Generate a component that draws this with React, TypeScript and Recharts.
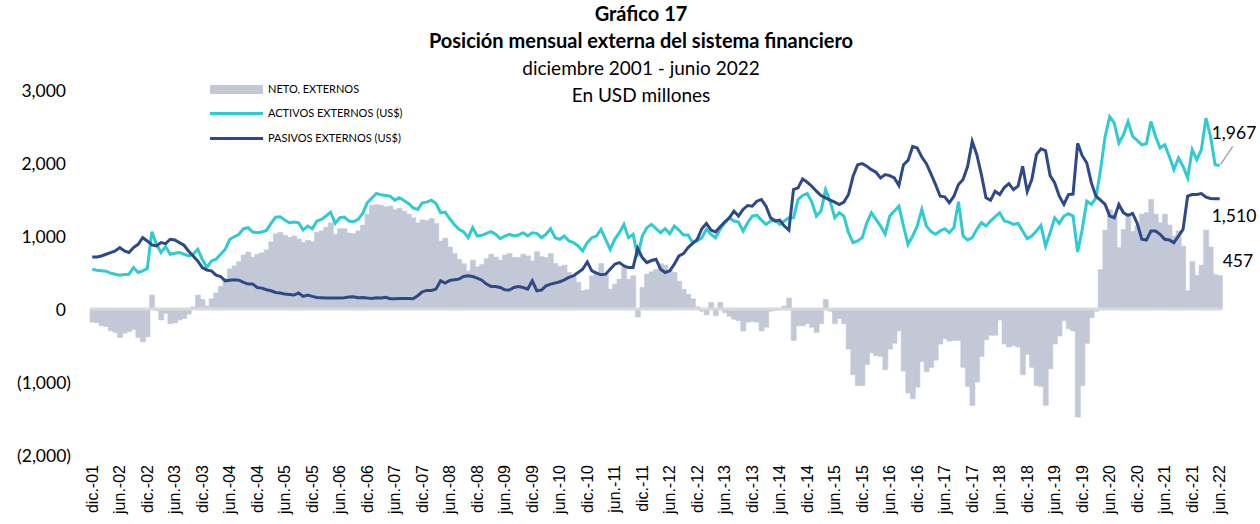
import React from 'react'
import { ComposedChart, Bar, Line, XAxis, YAxis, ReferenceLine, ReferenceDot } from 'recharts'

// Meses: dic.-01 ... jun.-22 (247 observaciones)
const MONTH_NAMES = ['ene.', 'feb.', 'mar.', 'abr.', 'may.', 'jun.', 'jul.', 'ago.', 'sep.', 'oct.', 'nov.', 'dic.']
const months: string[] = []
for (let k = 0; k < 247; k++) {
  const m = (11 + k) % 12
  const yr = 2001 + Math.floor((11 + k) / 12)
  months.push(`${MONTH_NAMES[m]}-${String(yr % 100).padStart(2, '0')}`)
}

// ACTIVOS EXTERNOS (US$), millones
const activos = [
  545,
  532, 523, 518, 491, 477, 464, 473, 477, 568, 500, 523, 555,
  1059, 886, 773, 855, 750, 764, 773, 750, 727, 750, 818, 682,
  568, 659, 682, 750, 818, 955, 990, 1023, 1100, 1114, 1055, 1045,
  1055, 1077, 1173, 1259, 1264, 1218, 1182, 1191, 1182, 1082, 1136, 1100,
  1205, 1227, 1273, 1327, 1173, 1250, 1259, 1205, 1195, 1227, 1309, 1455,
  1520, 1582, 1564, 1555, 1545, 1491, 1523, 1486, 1445, 1386, 1364, 1455,
  1464, 1491, 1445, 1318, 1327, 1236, 1159, 1091, 1059, 977, 1114, 1000,
  1009, 1036, 1059, 1023, 964, 1000, 1023, 1000, 1014, 1045, 1000, 1045,
  1036, 977, 1023, 1100, 977, 955, 1000, 932, 909, 864, 795, 909,
  977, 1000, 1091, 955, 818, 955, 1045, 1159, 977, 1023, 720, 1000,
  1114, 1159, 1100, 1045, 1100, 1032, 1136, 1082, 1014, 1014, 909, 932,
  977, 1091, 1023, 977, 1091, 1182, 1250, 1205, 1191, 1068, 1182, 1273,
  1286, 1218, 1159, 1205, 1218, 1159, 1205, 1250, 1250, 1500, 1555, 1582,
  1464, 1273, 1341, 1636, 1477, 1250, 1318, 1273, 1045, 909, 932, 977,
  1182, 1318, 1227, 1136, 1023, 1273, 1341, 1409, 1136, 886, 1000, 1136,
  1364, 1136, 1060, 1023, 1068, 1100, 1045, 1114, 1470, 1000, 945, 977,
  1091, 1182, 1136, 1205, 1264, 1318, 1205, 1191, 1159, 1173, 1068, 964,
  1000, 1068, 1145, 864, 1045, 1250, 1173, 1273, 1305, 1273, 780, 1091,
  1477, 1432, 1523, 1909, 2364, 2636, 2545, 2273, 2386, 2568, 2364, 2309,
  2250, 2264, 2568, 2364, 2205, 2250, 2091, 1909, 2068, 1955, 1795, 2182,
  2045, 2182, 2614, 2364, 1977, 1967,
]

// PASIVOS EXTERNOS (US$), millones
const pasivos = [
  714,
  714, 727, 750, 773, 795, 841, 795, 773, 841, 886, 977, 932,
  877, 864, 909, 895, 955, 945, 909, 873, 795, 727, 659, 568,
  532, 523, 464, 445, 386, 395, 400, 395, 364, 341, 341, 295,
  286, 264, 250, 227, 218, 205, 200, 191, 218, 173, 191, 173,
  159, 155, 150, 150, 150, 150, 155, 164, 168, 155, 159, 150,
  145, 155, 150, 159, 141, 141, 145, 145, 145, 141, 182, 236,
  255, 255, 273, 386, 355, 391, 400, 409, 445, 455, 445, 423,
  395, 341, 309, 309, 295, 264, 260, 295, 309, 295, 273, 386,
  250, 259, 318, 341, 355, 373, 400, 432, 455, 500, 545, 645,
  523, 491, 468, 477, 545, 614, 636, 591, 568, 568, 830, 705,
  636, 664, 682, 545, 500, 523, 614, 727, 759, 841, 900, 955,
  1100, 1173, 1082, 1055, 1127, 1191, 1250, 1341, 1273, 1364, 1418, 1409,
  1477, 1500, 1409, 1250, 1205, 1218, 1136, 1080, 1636, 1659, 1782, 1736,
  1682, 1614, 1555, 1523, 1491, 1464, 1432, 1464, 1568, 1818, 1977, 1991,
  1955, 1909, 1873, 1795, 1841, 1827, 1795, 1691, 1977, 2036, 2227, 2205,
  2082, 1991, 1850, 1705, 1545, 1536, 1455, 1545, 1705, 1773, 1955, 2295,
  2114, 1841, 1523, 1491, 1614, 1568, 1664, 1718, 1636, 1682, 1955, 1609,
  1773, 2114, 2195, 2168, 1827, 1727, 1545, 1432, 1568, 1575, 2270, 2100,
  2000, 1727, 1545, 1491, 1432, 1273, 1250, 1432, 1318, 1282, 1309, 1173,
  955, 945, 1068, 1068, 1023, 955, 945, 909, 1000, 1091, 1545, 1568,
  1568, 1582, 1532, 1514, 1509, 1510,
]

// NETO, EXTERNOS, millones
const neto = [
  -180,
  -190, -230, -240, -300, -320, -390, -330, -310, -280, -390, -450, -380,
  190, -20, -150, -60, -200, -190, -150, -130, -70, 30, 190, 130,
  40, 140, 220, 310, 420, 550, 590, 650, 740, 780, 710, 750,
  770, 810, 920, 1030, 1050, 1010, 980, 1000, 960, 910, 940, 920,
  1050, 1070, 1120, 1180, 1020, 1100, 1100, 1040, 1030, 1070, 1150, 1300,
  1420, 1430, 1420, 1400, 1410, 1360, 1380, 1340, 1300, 1250, 1180, 1220,
  1210, 1240, 1170, 930, 970, 850, 760, 680, 620, 520, 670, 580,
  610, 690, 750, 710, 670, 740, 760, 705, 705, 750, 727, 659,
  786, 718, 705, 759, 622, 582, 600, 500, 454, 364, 250, 264,
  454, 509, 623, 478, 273, 341, 409, 568, 409, 455, -110, 295,
  478, 510, 540, 620, 600, 530, 500, 380, 270, 200, 140, 30,
  -30, -80, 90, -90, 90, -50, -100, -140, -160, -300, -180, -170,
  -180, -300, -250, -30, -20, -10, 40, 150, -430, -230, -230, -200,
  -250, -320, -200, 130, -30, -200, -130, -200, -550, -900, -1050, -1050,
  -760, -600, -640, -650, -830, -550, -470, -300, -850, -1150, -1230, -1070,
  -720, -860, -800, -700, -480, -410, -440, -430, -430, -800, -1060, -1320,
  -1000, -650, -420, -360, -360, -150, -480, -520, -500, -520, -900, -620,
  -800, -1050, -1060, -1320, -820, -480, -370, -160, -270, -300, -1480, -1050,
  -470, -120, -30, 540, 1080, 1360, 1300, 840, 1090, 1280, 1060, 1140,
  1300, 1320, 1500, 1300, 1180, 1300, 1150, 1000, 1070, 860, 250, 650,
  460, 600, 1080, 850, 470, 457,
]

const yTicks = [-2000, -1000, 0, 1000, 2000, 3000]

const data = months.map((mes, i) => ({ mes, neto: neto[i], activos: activos[i], pasivos: pasivos[i] }))
const last = months.length - 1

const BAR = '#c3c8d7'
const CYAN = '#2fcad2'
const NAVY = '#2e4a86'
const FONT = 'Lato, "Open Sans", sans-serif'

const fmt = (v: number) => (v < 0 ? `(${Math.abs(v).toLocaleString('en-US')})` : v.toLocaleString('en-US'))

function MonthTick(props: any) {
  const { x, y, payload } = props
  return (
    <text
      x={x}
      y={y}
      transform={`rotate(-90 ${x} ${y})`}
      textAnchor="end"
      dominantBaseline="central"
      fontSize={16}
      fontFamily='"Liberation Sans", Arial, sans-serif'
      fill="#000"
    >
      {payload.value}
    </text>
  )
}

function ValueTick(props: any) {
  const { y, payload } = props
  const v = payload.value as number
  return (
    <text x={v < 0 ? 71 : 66} y={y} textAnchor="end" dominantBaseline="central" fontSize={17.5} fontFamily={FONT} fill="#000">
      {fmt(v)}
    </text>
  )
}

const endText = { fontSize: 17.5, fontFamily: FONT, fill: '#000' }

export default function App() {
  return (
    <div style={{ position: 'absolute', left: 0, top: 0, width: 1260, height: 524, background: '#fff', fontFamily: FONT }}>
      <div style={{ position: 'absolute', left: 341, top: 0, width: 600, textAlign: 'center', fontSize: 19, lineHeight: '27px', color: '#000' }}>
        <div style={{ fontWeight: 700, fontSize: 20 }}>Gráfico 17</div>
        <div style={{ fontWeight: 700, fontSize: 20 }}>Posición mensual externa del sistema financiero</div>
        <div>diciembre 2001 - junio 2022</div>
        <div>En USD millones</div>
      </div>

      <div style={{ position: 'absolute', left: 210, top: 0, fontSize: 11, color: '#000' }}>
        <div style={{ position: 'absolute', top: 85, left: 0, width: 53, height: 9, background: BAR }} />
        <div style={{ position: 'absolute', top: 82, left: 58, whiteSpace: 'nowrap', lineHeight: '14px' }}>NETO, EXTERNOS</div>
        <div style={{ position: 'absolute', top: 112, left: 0, width: 53, height: 3, background: CYAN }} />
        <div style={{ position: 'absolute', top: 106, left: 58, whiteSpace: 'nowrap', lineHeight: '14px' }}>ACTIVOS EXTERNOS (US$)</div>
        <div style={{ position: 'absolute', top: 137, left: 0, width: 53, height: 3, background: NAVY }} />
        <div style={{ position: 'absolute', top: 131, left: 58, whiteSpace: 'nowrap', lineHeight: '14px' }}>PASIVOS EXTERNOS (US$)</div>
      </div>

      <div style={{ position: 'absolute', left: 0, top: 0 }}>
        <ComposedChart
          width={1260}
          height={524}
          data={data}
          margin={{ top: 90, right: 38, bottom: 0, left: 0 }}
          barCategoryGap={0}
          barGap={0}
        >
          <XAxis
            dataKey="mes"
            interval={5}
            axisLine={false}
            tickLine={false}
            tickSize={0}
            tickMargin={10}
            height={69}
            tick={<MonthTick />}
          />
          <YAxis
            domain={[-2000, 3000]}
            ticks={yTicks}
            width={90}
            axisLine={false}
            tickLine={false}
            tick={<ValueTick />}
          />
          <ReferenceLine y={0} stroke="#d9d9d9" strokeWidth={3} />
          <Bar dataKey="neto" fill={BAR} stroke={BAR} strokeWidth={0.6} isAnimationActive={false} />
          <Line type="linear" dataKey="activos" stroke={CYAN} strokeWidth={3} dot={false} isAnimationActive={false} />
          <Line type="linear" dataKey="pasivos" stroke={NAVY} strokeWidth={3} dot={false} isAnimationActive={false} />
          <ReferenceDot
            x={months[last]}
            y={activos[last]}
            r={0}
            shape={(p: any) => (
              <g>
                <line x1={p.cx + 1} y1={p.cy - 1} x2={p.cx + 13} y2={p.cy - 19} stroke="#a6a6a6" strokeWidth={1.5} />
                <text x={p.cx - 8} y={p.cy - 33} dominantBaseline="central" {...endText}>{activos[last].toLocaleString('en-US')}</text>
              </g>
            )}
          />
          <ReferenceDot
            x={months[last]}
            y={pasivos[last]}
            r={0}
            shape={(p: any) => (
              <text x={p.cx - 8} y={p.cy + 17} dominantBaseline="central" {...endText}>{pasivos[last].toLocaleString('en-US')}</text>
            )}
          />
          <ReferenceDot
            x={months[last]}
            y={neto[last]}
            r={0}
            shape={(p: any) => (
              <text x={p.cx + 3} y={p.cy - 15} dominantBaseline="central" {...endText}>{neto[last]}</text>
            )}
          />
        </ComposedChart>
      </div>
    </div>
  )
}
